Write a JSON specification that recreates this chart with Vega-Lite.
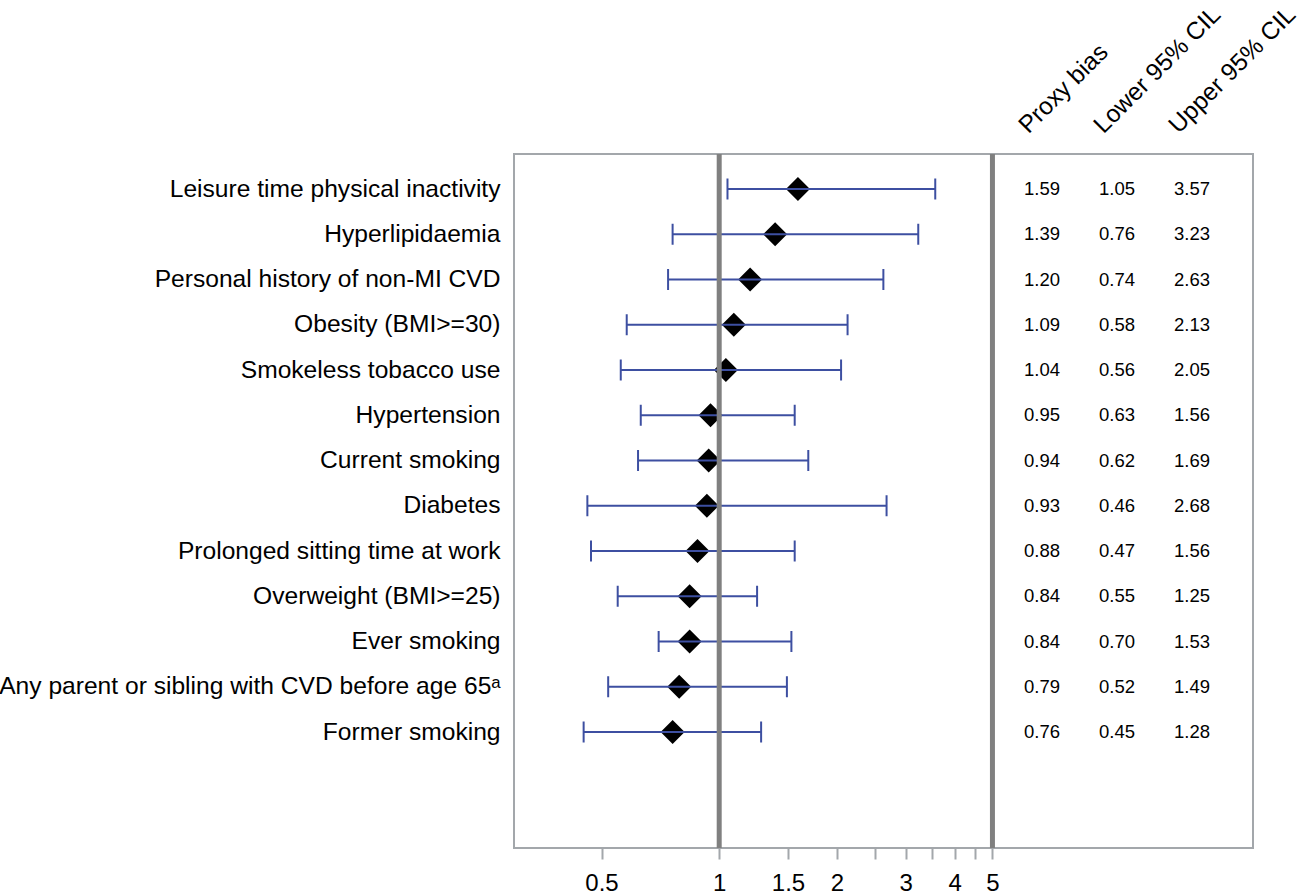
{
  "$schema": "https://vega.github.io/schema/vega-lite/v6.json",
  "width": 739,
  "height": 694,
  "autosize": {"type": "none"},
  "padding": {"left": 514, "top": 154, "right": 50, "bottom": 46},
  "background": "white",
  "config": {
    "font": "Liberation Sans",
    "view": {"stroke": "#A3A7AB", "strokeWidth": 2}
  },
  "data": {
    "values": [
      {"label": "Leisure time physical inactivity", "bias": 1.59, "lower": 1.05, "upper": 3.57},
      {"label": "Hyperlipidaemia", "bias": 1.39, "lower": 0.76, "upper": 3.23},
      {"label": "Personal history of non-MI CVD", "bias": 1.20, "lower": 0.74, "upper": 2.63},
      {"label": "Obesity (BMI>=30)", "bias": 1.09, "lower": 0.58, "upper": 2.13},
      {"label": "Smokeless tobacco use", "bias": 1.04, "lower": 0.56, "upper": 2.05},
      {"label": "Hypertension", "bias": 0.95, "lower": 0.63, "upper": 1.56},
      {"label": "Current smoking", "bias": 0.94, "lower": 0.62, "upper": 1.69},
      {"label": "Diabetes", "bias": 0.93, "lower": 0.46, "upper": 2.68},
      {"label": "Prolonged sitting time at work", "bias": 0.88, "lower": 0.47, "upper": 1.56},
      {"label": "Overweight (BMI>=25)", "bias": 0.84, "lower": 0.55, "upper": 1.25},
      {"label": "Ever smoking", "bias": 0.84, "lower": 0.70, "upper": 1.53},
      {"label": "Any parent or sibling with CVD before age 65ᵃ", "bias": 0.79, "lower": 0.52, "upper": 1.49},
      {"label": "Former smoking", "bias": 0.76, "lower": 0.45, "upper": 1.28}
    ]
  },
  "encoding": {
    "y": {
      "field": "label",
      "type": "nominal",
      "scale": {
        "type": "point",
        "range": [35, 578],
        "padding": 0,
        "domain": ["Leisure time physical inactivity", "Hyperlipidaemia", "Personal history of non-MI CVD", "Obesity (BMI>=30)", "Smokeless tobacco use", "Hypertension", "Current smoking", "Diabetes", "Prolonged sitting time at work", "Overweight (BMI>=25)", "Ever smoking", "Any parent or sibling with CVD before age 65ᵃ", "Former smoking"]
      },
      "axis": {
        "title": null,
        "domain": false,
        "ticks": false,
        "grid": false,
        "labelFontSize": 24.6,
        "labelColor": "black",
        "labelPadding": 14,
        "labelLimit": 1000
      }
    }
  },
  "layer": [
    {
      "layer": [
        {
          "mark": {"type": "point", "shape": "diamond", "filled": true, "color": "black", "size": 576, "opacity": 1},
          "encoding": {
            "x": {
              "field": "bias",
              "type": "quantitative",
              "scale": {"type": "log", "domain": [0.2986, 23.2], "nice": false, "zero": false},
              "axis": {
                "title": null,
                "grid": false,
                "domain": false,
                "values": [0.5, 1, 1.5, 2, 2.5, 3, 3.5, 4, 4.5, 5],
                "labelExpr": "(datum.value == 2.5 || datum.value == 3.5 || datum.value == 4.5) ? '' : format(datum.value, '~g')",
                "tickColor": "#A3A7AB",
                "tickWidth": 2,
                "tickSize": 11,
                "labelFontSize": 24,
                "labelColor": "black",
                "labelPadding": 12,
                "labelFlush": false,
                "labelOverlap": false
              }
            }
          }
        },
        {
          "mark": {"type": "rule", "color": "#3D4FA1", "strokeWidth": 2},
          "encoding": {
            "x": {"field": "lower", "type": "quantitative"},
            "x2": {"field": "upper"}
          }
        },
        {
          "mark": {"type": "tick", "orient": "vertical", "color": "#3D4FA1", "thickness": 2, "size": 21, "opacity": 1},
          "encoding": {"x": {"field": "lower", "type": "quantitative"}}
        },
        {
          "mark": {"type": "tick", "orient": "vertical", "color": "#3D4FA1", "thickness": 2, "size": 21, "opacity": 1},
          "encoding": {"x": {"field": "upper", "type": "quantitative"}}
        },
        {
          "data": {"values": [{"ref": 1}, {"ref": 5}]},
          "mark": {"type": "rule", "color": "#808080", "strokeWidth": 5},
          "encoding": {"x": {"field": "ref", "type": "quantitative"}, "y": null}
        }
      ]
    },
    {
      "transform": [{"fold": ["bias", "lower", "upper"], "as": ["key", "val"]}],
      "mark": {"type": "text", "fontSize": 18.5, "color": "black", "align": "center", "baseline": "middle"},
      "encoding": {
        "x": {
          "field": "key",
          "type": "nominal",
          "scale": {"type": "point", "domain": ["bias", "lower", "upper"], "range": [528, 678], "padding": 0},
          "axis": {
            "orient": "top",
            "title": null,
            "domain": false,
            "ticks": false,
            "tickSize": 0,
            "grid": false,
            "labelAngle": -45,
            "labelAlign": "left",
            "labelBaseline": "alphabetic",
            "labelFontSize": 24.5,
            "labelColor": "black",
            "labelPadding": 20,
            "labelOffset": -14,
            "labelLimit": 1000,
            "labelExpr": "datum.value == 'bias' ? 'Proxy bias' : (datum.value == 'lower' ? 'Lower 95% CIL' : 'Upper 95% CIL')"
          }
        },
        "text": {"field": "val", "type": "quantitative", "format": ".2f"}
      }
    }
  ],
  "resolve": {"scale": {"x": "independent"}, "axis": {"x": "independent"}}
}
